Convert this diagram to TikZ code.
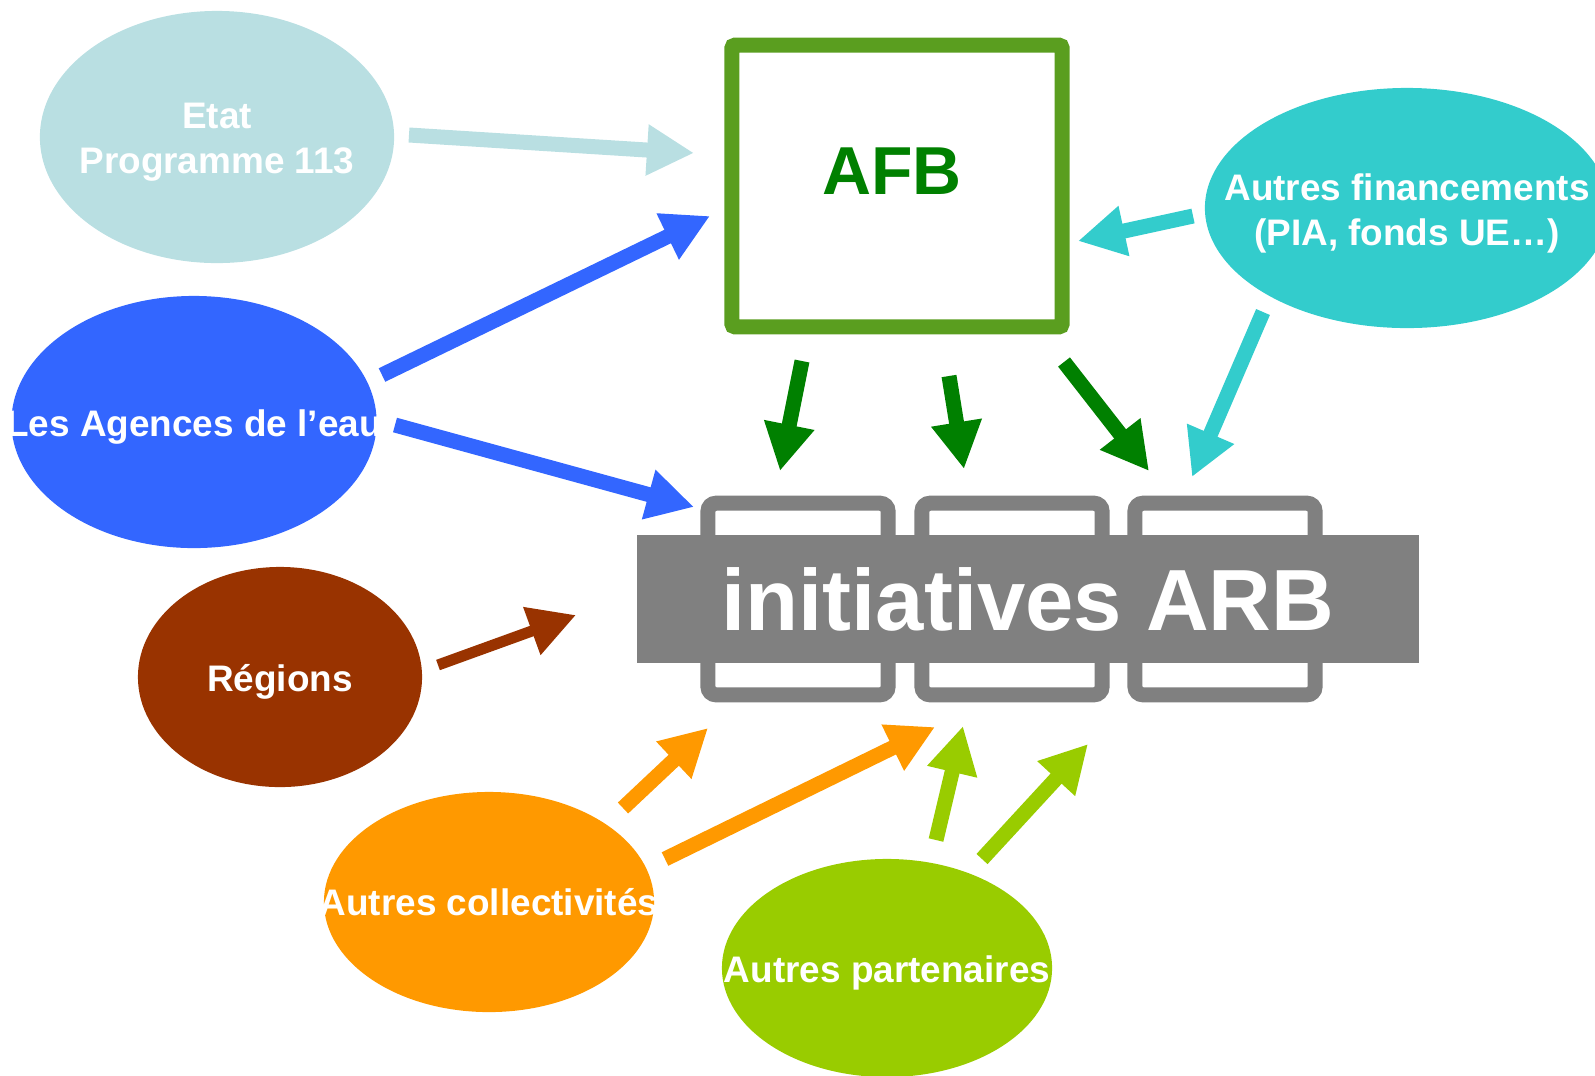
\documentclass[tikz,border=0pt]{standalone}
\usepackage{fontspec}
\setmainfont{Liberation Sans}
\usetikzlibrary{shapes.geometric, arrows.meta}
\definecolor{etatblue}{HTML}{B9DFE2}
\definecolor{agenceblue}{HTML}{3366FF}
\definecolor{regionbrown}{HTML}{993300}
\definecolor{collorange}{HTML}{FF9900}
\definecolor{partgreen}{HTML}{99CC00}
\definecolor{fincyan}{HTML}{33CCCC}
\definecolor{afbframe}{HTML}{5A9E1F}
\definecolor{afbgreen}{HTML}{008000}
\definecolor{arbgray}{HTML}{808080}

\tikzset{
  src/.style={shape=ellipse, inner sep=0pt},
  srctext/.style={text=white, align=center, yshift=-0.05cm,
    font=\fontsize{10.5}{12.8}\selectfont\bfseries},
  flow/.style={line width=0.15cm, -{Triangle[length=0.47cm, width=0.48cm]}},
  arbframe/.style={draw=arbgray, fill=white, line width=0.15cm, rounded corners=0.08cm,
    minimum width=1.8cm, minimum height=1.915cm}
}

\begin{document}
\begin{tikzpicture}[x=0.01cm, y=-0.01cm]
    \useasboundingbox (0,0) rectangle (1595,1075);
    % sources
    \node(etat)[src, fill=etatblue, minimum width=3.54cm, minimum height=2.52cm,
      label={[srctext]center:Etat\\Programme 113}] at (217,137) {};
    \node(agence)[src, fill=agenceblue, minimum width=3.65cm, minimum height=2.52cm,
      label={[srctext]center:Les Agences de l’eau}] at (194,422) {};
    \node(region)[src, fill=regionbrown, minimum width=2.84cm, minimum height=2.2cm,
      label={[srctext]center:Régions}] at (280,677) {};
    \node(coll)[src, fill=collorange, minimum width=3.3cm, minimum height=2.2cm,
      label={[srctext, yshift=0.05cm]center:Autres collectivités}] at (489,902) {};
    \node(part)[src, fill=partgreen, minimum width=3.3cm, minimum height=2.18cm,
      label={[srctext]center:Autres partenaires}] at (887,968) {};
    \node(fin)[src, fill=fincyan, minimum width=4.04cm, minimum height=2.4cm,
      label={[srctext]center:Autres financements\\(PIA, fonds UE…)}] at (1407,208) {};
    % AFB
    \node(afb)[draw=afbframe, line width=0.15cm, rounded corners=0.03cm, fill=white,
      minimum width=3.3cm, minimum height=2.815cm,
      label={[text=afbgreen, font=\fontsize{19.3}{23}\selectfont\bfseries,
        xshift=-0.05cm, yshift=0.15cm]center:AFB}] at (897,186) {};
    % initiatives ARB
    \node(arb1)[arbframe] at (798,599) {};
    \node(arb2)[arbframe] at (1012,599) {};
    \node(arb3)[arbframe] at (1225,599) {};
    \node(arb)[fill=arbgray, text=white, minimum width=7.82cm, minimum height=1.28cm,
      font=\fontsize{24.7}{28}\selectfont\bfseries] at (1028,599) {initiatives ARB};
    % arrow ends
    \coordinate(etat_out) at (409,135);
    \coordinate(afb_w) at (694,153);
    \coordinate(agence_up) at (382,375);
    \coordinate(afb_sw) at (710,216);
    \coordinate(agence_down) at (395,425);
    \coordinate(arb_nw) at (694,507);
    \coordinate(region_out) at (438,665);
    \coordinate(arb_w) at (576,615);
    \coordinate(afb_s1) at (802,361);
    \coordinate(arb_n1) at (780,471);
    \coordinate(afb_s2) at (949,376);
    \coordinate(arb_n2) at (964,469);
    \coordinate(afb_s3) at (1064,362);
    \coordinate(arb_n3) at (1149,471);
    \coordinate(fin_w) at (1193,216);
    \coordinate(afb_e) at (1078,241);
    \coordinate(fin_sw) at (1263,312);
    \coordinate(arb_ne) at (1192,477);
    \coordinate(coll_ne1) at (623,808);
    \coordinate(arb_sw1) at (708,728);
    \coordinate(coll_ne2) at (665,859);
    \coordinate(arb_s1) at (935,727);
    \coordinate(part_n1) at (936,840);
    \coordinate(arb_s2) at (963,726);
    \coordinate(part_n2) at (982,859);
    \coordinate(arb_s3) at (1088,744);
    % arrows
    \draw[flow, etatblue] (etat_out) -- (afb_w);
    \draw[flow, agenceblue] (agence_up) -- (afb_sw);
    \draw[flow, agenceblue] (agence_down) -- (arb_nw);
    \draw[flow, regionbrown, line width=0.11cm] (region_out) -- (arb_w);
    \draw[flow, afbgreen] (afb_s1) -- (arb_n1);
    \draw[flow, afbgreen] (afb_s2) -- (arb_n2);
    \draw[flow, afbgreen] (afb_s3) -- (arb_n3);
    \draw[flow, fincyan] (fin_w) -- (afb_e);
    \draw[flow, fincyan] (fin_sw) -- (arb_ne);
    \draw[flow, collorange] (coll_ne1) -- (arb_sw1);
    \draw[flow, collorange] (coll_ne2) -- (arb_s1);
    \draw[flow, partgreen] (part_n1) -- (arb_s2);
    \draw[flow, partgreen] (part_n2) -- (arb_s3);
\end{tikzpicture}
\end{document}
